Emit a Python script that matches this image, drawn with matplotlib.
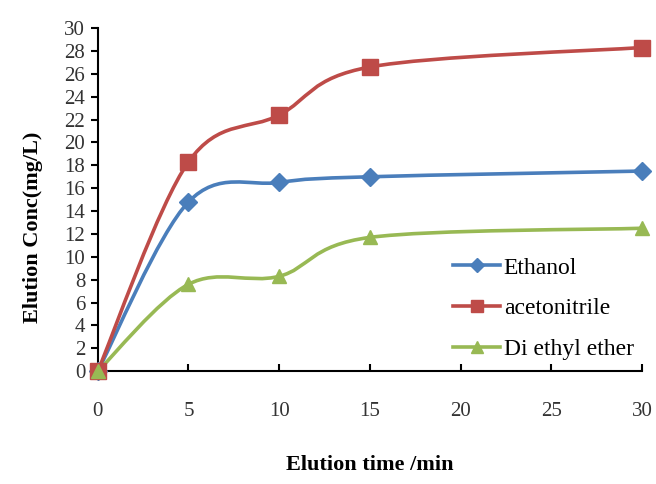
import numpy as np
import matplotlib
matplotlib.use("Agg")
import matplotlib.pyplot as plt
from matplotlib.path import Path
from matplotlib.patches import PathPatch
from matplotlib.lines import Line2D

time_min = [0, 5, 10, 15, 30]
ethanol = [0, 14.8, 16.5, 17.0, 17.5]
acetonitrile = [0, 18.3, 22.4, 26.6, 28.3]
diethyl_ether = [0, 7.6, 8.3, 11.7, 12.5]

series = [
    ("Ethanol", ethanol, "#4A7EBB", "D", 9, 7),
    ("acetonitrile", acetonitrile, "#BE4B48", "s", 11, 9),
    ("Di ethyl ether", diethyl_ether, "#98B954", "^", 10, 8),
]

plt.rcParams["font.family"] = ["Liberation Serif", "DejaVu Serif"]


def smooth_path(x, y):
    # Excel-style smoothed line: cubic bezier through the points
    p = np.column_stack([x, y]).astype(float)
    ext = np.vstack([p[0], p, p[-1]])
    verts = [p[0]]
    codes = [Path.MOVETO]
    for i in range(len(p) - 1):
        p0, p1, p2, p3 = ext[i], ext[i + 1], ext[i + 2], ext[i + 3]
        c1 = p1 + (p2 - p0) / 6
        c2 = p2 - (p3 - p1) / 6
        verts += [c1, c2, p2]
        codes += [Path.CURVE4] * 3
    return Path(verts, codes)


fig = plt.figure(figsize=(6.56, 4.84), dpi=100)
ax = fig.add_axes([0.149, 0.233, 0.83, 0.709])

handles = []
for label, vals, color, marker, ms, lms in series:
    patch = PathPatch(smooth_path(time_min, vals), facecolor="none",
                      edgecolor=color, lw=2.6, clip_on=False, zorder=2)
    ax.add_patch(patch)
    ax.plot(time_min, vals, ls="none", marker=marker, ms=ms, color=color,
            clip_on=False, zorder=3)
    handles.append(Line2D([], [], color=color, lw=2.6, marker=marker,
                          ms=lms, label=label))

ax.set_xlim(0, 30)
ax.set_ylim(0, 30)
ax.set_xticks([0, 5, 10, 15, 20, 25, 30])
ax.set_yticks(range(0, 31, 2))
ax.spines["top"].set_visible(False)
ax.spines["right"].set_visible(False)
ax.spines["left"].set_linewidth(1.5)
ax.spines["bottom"].set_linewidth(1.5)
ax.tick_params(axis="x", direction="in", length=5, width=1.5, labelsize=15,
               pad=22, labelcolor="#333333")
ax.tick_params(axis="y", direction="out", length=5, width=1.5, labelsize=15,
               pad=4, labelcolor="#333333")

ax.set_xlabel("Elution time /min", fontsize=16, fontweight="bold")
ax.xaxis.set_label_coords(0.5, -0.245)
ax.set_ylabel("Elution Conc(mg/L)", fontsize=16, fontweight="bold")
ax.yaxis.set_label_coords(-0.1, 0.42)

ax.legend(handles=handles, loc="upper left",
          bbox_to_anchor=(453 / 656, 1 - 257 / 484),
          bbox_transform=fig.transFigure, frameon=False, fontsize=17,
          handlelength=2.0, handletextpad=0.15, labelspacing=0.82,
          borderpad=0, borderaxespad=0)

fig.savefig("out.png", dpi=100)
